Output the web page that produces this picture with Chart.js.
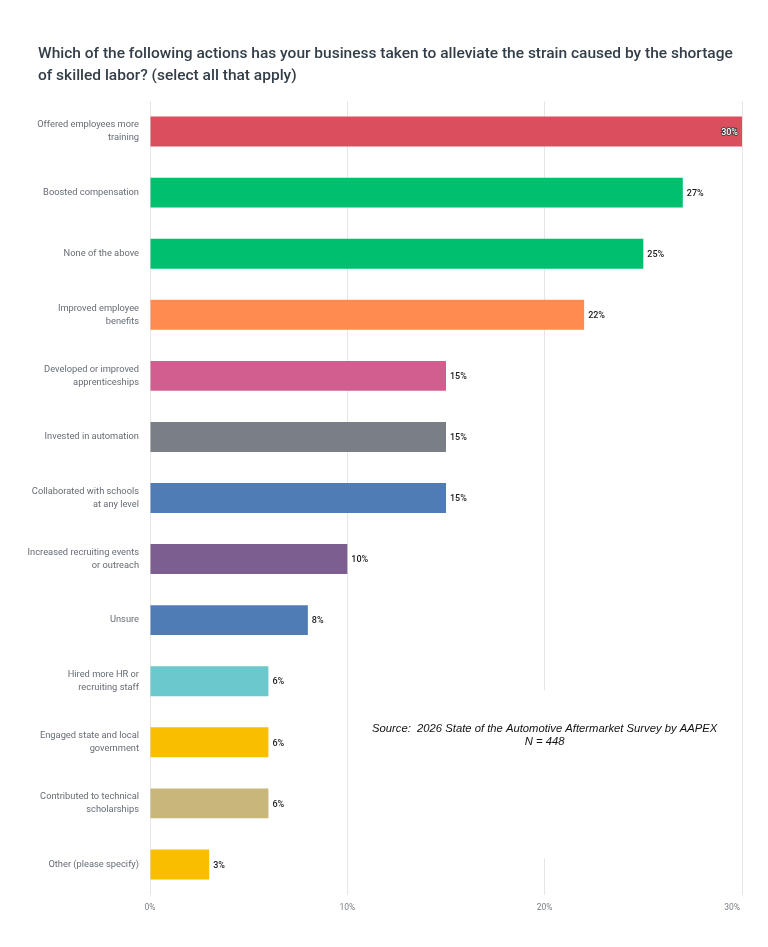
<!DOCTYPE html>
<html>
<head>
<meta charset="utf-8">
<script src="https://cdn.jsdelivr.net/npm/chart.js@4/dist/chart.umd.min.js"></script>
<style>
  html, body { margin: 0; padding: 0; background: #ffffff; }
  #wrap { position: relative; width: 768px; height: 947px; }
  #title {
    position: absolute; left: 38px; top: 42px; width: 728px; white-space: nowrap;
    font-family: Roboto, sans-serif; font-weight: 500; font-size: 15.5px;
    line-height: 22px; color: #333e48;
  }
  canvas { position: absolute; left: 0; top: 0; }
</style>
</head>
<body>
<div id="wrap">
  <canvas id="c" width="768" height="947"></canvas>
  <div id="title">Which of the following actions has your business taken to alleviate the strain caused by the shortage<br>of skilled labor? (select all that apply)</div>
</div>
<script>
const categories = [
  ["Offered employees more", "training"],
  "Boosted compensation",
  "None of the above",
  ["Improved employee", "benefits"],
  ["Developed or improved", "apprenticeships"],
  "Invested in automation",
  ["Collaborated with schools", "at any level"],
  ["Increased recruiting events", "or outreach"],
  "Unsure",
  ["Hired more HR or", "recruiting staff"],
  ["Engaged state and local", "government"],
  ["Contributed to technical", "scholarships"],
  "Other (please specify)"
];
const values = [30, 27, 25, 22, 15, 15, 15, 10, 8, 6, 6, 6, 3];
const xTicks = [0, 10, 20, 30];
const barColors = [
  "#DA4E5E", "#00BF6F", "#00BF6F", "#FF8B4F", "#D25E8F", "#7A7F86", "#507CB6",
  "#7D5E90", "#507CB6", "#6BC8CD", "#F9BE00", "#C8B67A", "#F9BE00"
];
const sourceLines = ["Source:  2026 State of the Automotive Aftermarket Survey by AAPEX", "N = 448"];

const overlay = {
  id: "overlay",
  afterDraw(chart) {
    const ctx = chart.ctx;
    const xs = chart.scales.x;
    const meta = chart.getDatasetMeta(0);
    ctx.save();
    // value labels
    ctx.font = "500 9px Roboto, sans-serif";
    ctx.textBaseline = "middle";
    meta.data.forEach((bar, i) => {
      const txt = values[i] + "%";
      if (bar.x > chart.chartArea.right - 25) {
        ctx.textAlign = "right";
        ctx.lineWidth = 1.6;
        ctx.strokeStyle = "#3a3a3a";
        ctx.strokeText(txt, bar.x - 4, bar.y + 1);
        ctx.fillStyle = "#ffffff";
        ctx.fillText(txt, bar.x - 4, bar.y + 1);
      } else {
        ctx.textAlign = "left";
        ctx.fillStyle = "#1a1a1a";
        ctx.fillText(txt, bar.x + 4, bar.y + 1);
      }
    });
    // x tick labels
    ctx.font = "8.5px Roboto, sans-serif";
    ctx.fillStyle = "#7a7f86";
    xs.ticks.forEach((t, i) => {
      const px = xs.getPixelForValue(t.value);
      const last = i === xs.ticks.length - 1;
      ctx.textAlign = last ? "right" : "center";
      ctx.fillText(t.value + "%", last ? px - 2 : px, chart.chartArea.bottom + 12.5);
    });
    // source note box
    const cx = xs.getPixelForValue(20);
    ctx.fillStyle = "#ffffff";
    ctx.fillRect(cx - 180, 690, 360, 168);
    ctx.font = "italic 11.25px 'Liberation Sans', Arial, sans-serif";
    ctx.fillStyle = "#111111";
    ctx.textAlign = "center";
    ctx.fillText(sourceLines[0], cx, 729);
    ctx.fillText(sourceLines[1], cx, 742);
    ctx.restore();
  }
};

new Chart(document.getElementById("c"), {
  type: "bar",
  data: {
    labels: categories,
    datasets: [{
      data: values,
      backgroundColor: barColors,
      borderWidth: 0,
      categoryPercentage: 1,
      barPercentage: 0.49
    }]
  },
  options: {
    indexAxis: "y",
    responsive: false,
    animation: false,
    devicePixelRatio: 1,
    layout: { padding: { left: 0, right: 26, top: 101, bottom: 52 } },
    plugins: { legend: { display: false }, tooltip: { enabled: false }, title: { display: false } },
    scales: {
      x: {
        min: 0, max: 30,
        afterBuildTicks(scale) { scale.ticks = xTicks.map(v => ({ value: v })); },
        afterFit(scale) { scale.height = 0; },
        ticks: { display: false },
        grid: { color: "#e6e6e6", lineWidth: 1, drawTicks: false },
        border: { display: false }
      },
      y: {
        afterFit(scale) { scale.width = 150; },
        grid: { display: false, drawTicks: false },
        border: { display: false },
        ticks: {
          padding: 11,
          color: "#666c74",
          font: { family: "Roboto, sans-serif", size: 9.3, lineHeight: 1.4 },
          autoSkip: false
        }
      }
    }
  },
  plugins: [overlay]
});
</script>
</body>
</html>
